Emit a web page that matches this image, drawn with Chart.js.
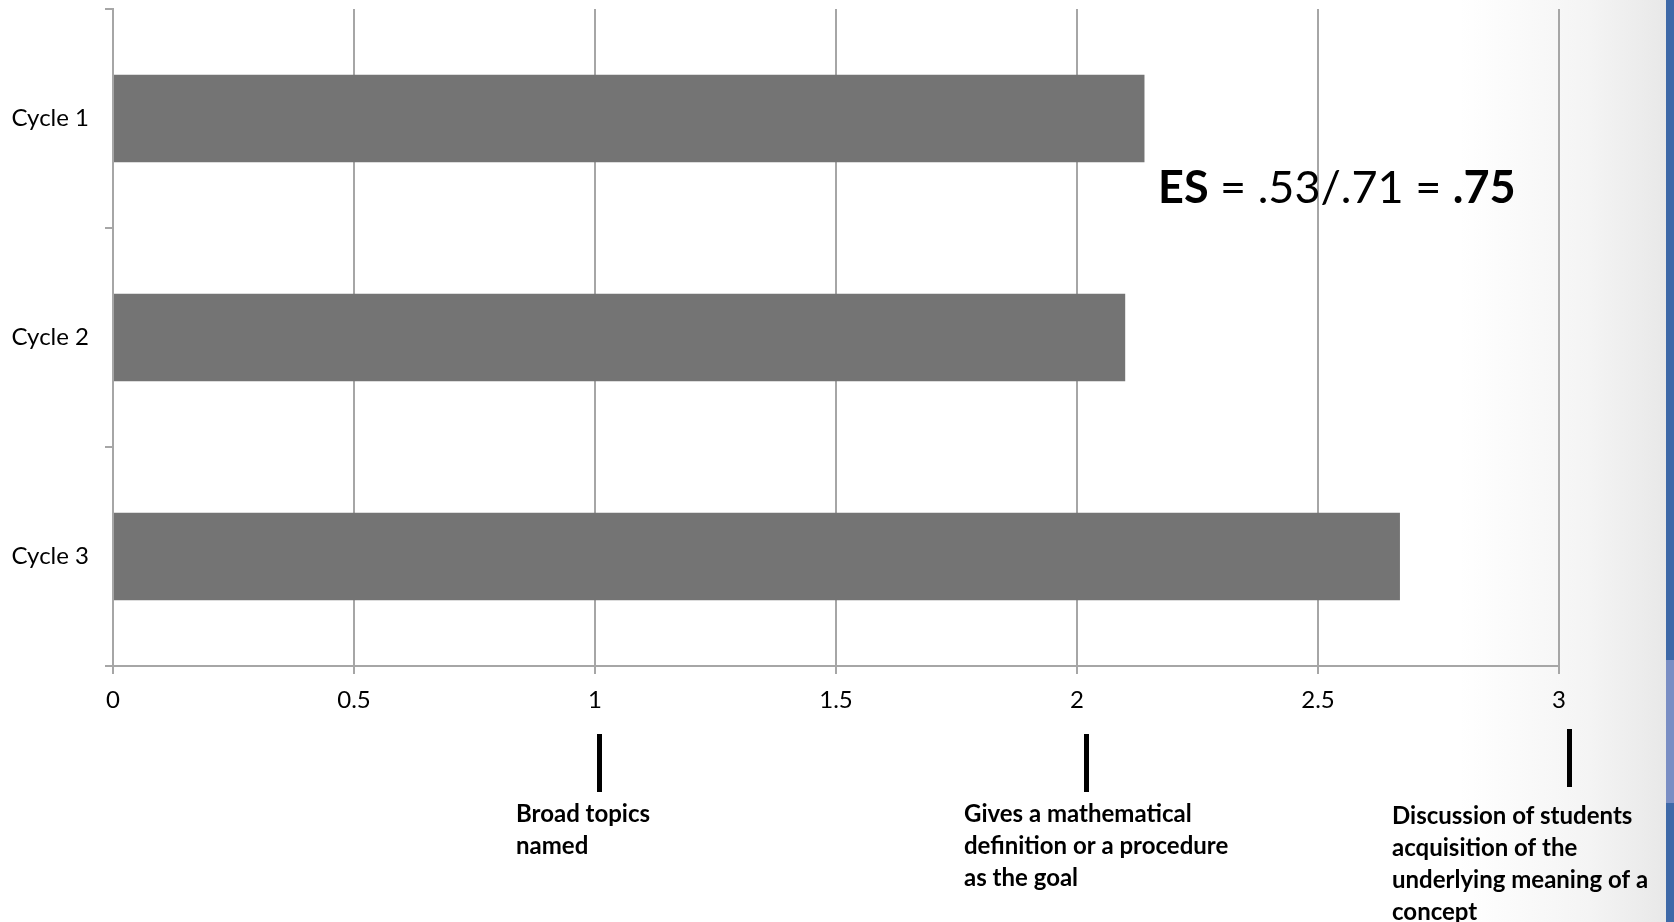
<!DOCTYPE html>
<html>
<head>
<meta charset="utf-8">
<title>Cycle scores</title>
<script src="https://cdn.jsdelivr.net/npm/chart.js@4.4.1/dist/chart.umd.min.js"></script>
<style>
  html, body { margin: 0; padding: 0; background: #fff; }
  #wrap {
    position: relative; width: 1674px; height: 922px; overflow: hidden;
    background: linear-gradient(to right, #ffffff 0px, #ffffff 1460px, #f4f4f4 1590px, #e8e8e8 1666px);
  }
  #stripe {
    position: absolute; left: 1666px; top: 0; width: 8px; height: 922px;
    background: linear-gradient(to bottom, #3e69a8 0px, #3e69a8 660px, #7a8ec4 660px, #7a8ec4 803px, #3e69a8 803px);
  }
  canvas { position: absolute; left: 0; top: 0; }
</style>
</head>
<body>
<div id="wrap">
  <canvas id="chart" width="1674" height="922"></canvas>
  <div id="stripe"></div>
</div>
<script>
// Mean rating per teaching cycle
const categories = ['Cycle 1', 'Cycle 2', 'Cycle 3'];
const scores = [2.14, 2.10, 2.67];

// Value axis ticks
const xTickValues = [0, 0.5, 1, 1.5, 2, 2.5, 3];

// Rubric levels marked under the value axis
const levelValues = [1, 2, 3];
const levelLabels = [
  ['Broad topics', 'named'],
  ['Gives a mathematical', 'definition or a procedure', 'as the goal'],
  ['Discussion of students', 'acquisition of the', 'underlying meaning of a', 'concept']
];

// Effect size statement: [text, bold]
const effectSizeParts = [['ES', true], [' = .53/.71 = ', false], ['.75', true]];

const FONT = 'Lato, "Open Sans", sans-serif';
const GRID = '#a6a6a6';

// horizontal offsets of each level's marker and text block from its axis value
const markerShift = [4, 9, 10];
const labelShift = [-79, -113, -167];

const annotations = {
  id: 'annotations',
  afterDraw(chart) {
    const ctx = chart.ctx;
    const xs = chart.scales.x;
    ctx.save();
    // level markers and descriptions
    levelValues.forEach((v, i) => {
      const px = xs.getPixelForValue(v);
      ctx.fillStyle = '#000';
      const top = i === 2 ? 729 : 734;
      ctx.fillRect(Math.round(px + markerShift[i]) - 2, top, 5, 58);
      ctx.font = 'bold 24px ' + FONT;
      ctx.textBaseline = 'alphabetic';
      ctx.textAlign = 'left';
      levelLabels[i].forEach((line, k) => {
        ctx.fillText(line, px + labelShift[i], (i === 2 ? 824 : 822) + k * 32);
      });
    });
    // effect size
    let x = xs.getPixelForValue(2) + 81;
    const y = 203;
    ctx.textBaseline = 'alphabetic';
    effectSizeParts.forEach(([t, bold]) => {
      ctx.font = (bold ? 'bold ' : '') + '45px ' + FONT;
      ctx.fillText(t, x, y);
      x += ctx.measureText(t).width;
    });
    ctx.restore();
  }
};

new Chart(document.getElementById('chart'), {
  type: 'bar',
  data: {
    labels: categories,
    datasets: [{
      data: scores,
      backgroundColor: '#747474',
      borderWidth: 0,
      barPercentage: 0.4,
      categoryPercentage: 1.0
    }]
  },
  options: {
    indexAxis: 'y',
    responsive: false,
    animation: false,
    layout: { padding: { top: 9, right: 115, left: 0, bottom: 0 } },
    plugins: { legend: { display: false }, tooltip: { enabled: false } },
    scales: {
      x: {
        type: 'linear',
        min: 0,
        max: 3,
        afterBuildTicks(scale) { scale.ticks = xTickValues.map(v => ({ value: v })); },
        afterFit(scale) { scale.height = 256; scale.paddingLeft = 0; scale.paddingRight = 0; },
        ticks: {
          color: '#000', font: { family: FONT, size: 24 }, padding: 12, maxRotation: 0,
          callback: (v) => String(v)
        },
        grid: { color: GRID, lineWidth: 2, tickLength: 8, drawTicks: true },
        border: { color: GRID, width: 2 }
      },
      y: {
        type: 'category',
        afterFit(scale) { scale.width = 113; scale.paddingTop = 0; scale.paddingBottom = 0; },
        ticks: { color: '#000', font: { family: FONT, size: 24 }, padding: 16 },
        grid: { drawOnChartArea: false, offset: true, tickLength: 8, color: GRID, lineWidth: 2 },
        border: { color: GRID, width: 2 }
      }
    }
  },
  plugins: [annotations]
});
</script>
</body>
</html>
